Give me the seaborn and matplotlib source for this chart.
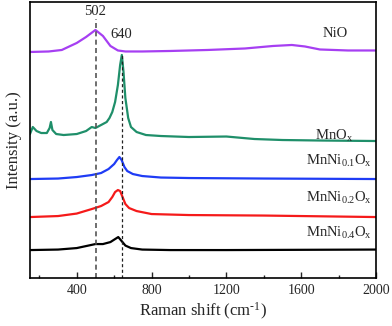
import numpy as np
import pandas as pd
import matplotlib
matplotlib.use("Agg")
import matplotlib.pyplot as plt
from matplotlib.ticker import MultipleLocator
import seaborn as sns

# Raman spectra (intensity in arbitrary units, already offset)
nio_w = [150, 250, 320, 400, 450, 500, 540, 580, 620, 660, 750, 900, 1100, 1300,
         1450, 1550, 1620, 1700, 1850, 2000]
nio_i = [226, 226.5, 228, 235, 241, 248, 242, 232, 227.5, 226.5, 226.5, 227, 228,
         229.5, 232, 233, 231.5, 228.5, 227.5, 227.5]

mnox_w = [150, 165, 185, 210, 240, 255, 262, 270, 290, 330, 400, 450, 480, 500, 520,
          540, 560, 575, 590, 605, 620, 632, 641, 650, 660, 675, 690, 720, 770, 850,
          1000, 1200, 1350, 1500, 1700, 2000]
mnox_i = [144, 151, 147, 145, 145, 150, 156, 148, 144, 143, 144, 147, 151, 150, 152,
          154, 156, 160, 166, 176, 193, 213, 223, 206, 180, 160, 151, 146, 143, 142,
          141, 141.5, 139, 138, 137.5, 137]

ni01_w = [150, 300, 400, 480, 530, 570, 600, 615, 628, 640, 655, 670, 700, 750, 850,
          1000, 1400, 2000]
ni01_i = [99, 99.5, 101, 103, 105, 109, 114, 118, 121, 118, 111, 107, 104, 102, 100.5,
          100, 99.5, 99]

ni02_w = [150, 300, 400, 480, 530, 570, 590, 605, 620, 632, 645, 660, 680, 720, 800,
          1000, 1400, 2000]
ni02_i = [61, 62, 64.5, 69, 72, 76, 81, 86, 88, 87, 81, 74, 70, 67, 64, 63, 62.5, 61]

ni04_w = [150, 300, 400, 450, 500, 540, 580, 605, 622, 640, 660, 690, 750, 900, 1200,
          2000]
ni04_i = [28, 28.5, 30, 32, 34, 34, 36, 39, 41, 37, 32.5, 30, 28.5, 28, 28, 28.5]

series_names = ["NiO", "MnOx", "MnNi0.1Ox", "MnNi0.2Ox", "MnNi0.4Ox"]
series_w = [nio_w, mnox_w, ni01_w, ni02_w, ni04_w]
series_i = [nio_i, mnox_i, ni01_i, ni02_i, ni04_i]
series_colors = ["#a63ff2", "#1f8f6a", "#1f3cf5", "#f51a1a", "#000000"]
series_labels = ["NiO", r"MnO$_\mathregular{x}$", r"MnNi$_\mathregular{0.1}$O$_\mathregular{x}$",
                 r"MnNi$_\mathregular{0.2}$O$_\mathregular{x}$", r"MnNi$_\mathregular{0.4}$O$_\mathregular{x}$"]

sns.set_style("ticks")
plt.rcParams["font.family"] = ["Liberation Serif", "DejaVu Serif"]
plt.rcParams["mathtext.fontset"] = "custom"
plt.rcParams["mathtext.rm"] = "Liberation Serif"
plt.rcParams["mathtext.it"] = "Liberation Serif"

fig = plt.figure(figsize=(3.92, 3.26), dpi=100)
ax = fig.add_axes([0.0765, 0.147, 0.8827, 0.847])

for name, w, i, c in zip(series_names, series_w, series_i, series_colors):
    df = pd.DataFrame({"w": w, "i": i})
    sns.lineplot(data=df, x="w", y="i", color=c, lw=1.6, ax=ax)

# peak markers
ax.axvline(502, ymin=0, ymax=0.94, color="#555555", ls=(0, (3, 2)), lw=1.2)
ax.axvline(640, ymin=0, ymax=0.815, color="#222222", ls=(0, (2.5, 2)), lw=0.9)
ax.text(497, 266, "502", ha="center", va="center", fontsize=10.5)
ax.text(640, 243, "640", ha="center", va="center", fontsize=10.5)

# sample labels
label_pos = [(1850, 244), (1875, 142), (1980, 117), (1980, 80), (1980, 45)]
for lab, (x, y) in zip(series_labels, label_pos):
    ax.text(x, y, lab, ha="right", va="center", fontsize=10.5)

ax.set_xlim(150, 2000)
ax.set_ylim(0, 276)
ax.xaxis.set_major_locator(MultipleLocator(400))
ax.xaxis.set_minor_locator(MultipleLocator(200))
ax.set_xticks([400, 800, 1200, 1600, 2000])
ax.set_yticks([])
ax.tick_params(axis="x", which="major", direction="in", length=4, width=1, labelsize=10, pad=4)
ax.tick_params(axis="x", which="minor", direction="in", length=2, width=1)
for s in ax.spines.values():
    s.set_linewidth(1.2)
    s.set_color("black")

ax.set_xlabel(r"Raman shift (cm$^{\text{-}\mathregular{1}}$)", fontsize=12, labelpad=3)
ax.set_ylabel("Intensity (a.u.)", fontsize=12, labelpad=6)

fig.savefig("out.png", dpi=100)
